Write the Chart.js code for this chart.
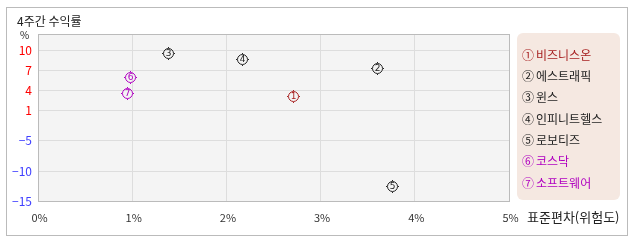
<!DOCTYPE html>
<html lang="ko">
<head>
  <meta charset="UTF-8">
  <title>4주간 수익률</title>
  <script src="https://cdn.jsdelivr.net/npm/chart.js"></script>
  <style>
    body { margin: 0; background: #fff; }
    #wrap { width: 638px; height: 242px; }
  </style>
</head>
<body>
  <div id="wrap"><canvas id="riskChart" width="638" height="242"></canvas></div>
  <script>
    // 종목/지수별 위험도(표준편차)와 4주간 수익률
    const names = ['비즈니스온', '에스트래픽', '윈스', '인피니트헬스', '로보티즈', '코스닥', '소프트웨어'];
    const marks = ['①', '②', '③', '④', '⑤', '⑥', '⑦'];
    const risk = [2.71, 3.60, 1.38, 2.17, 3.76, 0.98, 0.94];
    const returns = [3.1, 7.35, 9.5, 8.7, -12.5, 5.95, 3.5];
    const yTicks = [10, 7, 4, 1, -5, -10, -15];
    const xTicks = [0, 1, 2, 3, 4, 5];

    const colors = ['#a82222', '#222222', '#222222', '#222222', '#222222', '#b000c0', '#b000c0'];
    const FONT = "'Noto Sans CJK KR', 'Noto Sans', sans-serif";

    // y축 눈금 간격이 구간마다 달라서 구간별 선형 스케일을 씀
    class BandScale extends Chart.LinearScale {
      frac(v) {
        const k = this.options.knots;
        let i = 0;
        while (i < k.length - 2 && v > k[i + 1][0]) i++;
        const [v0, p0] = k[i], [v1, p1] = k[i + 1];
        const top = k[k.length - 1][1];
        return (p0 + (v - v0) / (v1 - v0) * (p1 - p0)) / top;
      }
      getPixelForValue(v) {
        if (v === null || v === undefined) return NaN;
        return this.getPixelForDecimal(this.frac(v));
      }
      getValueForPixel(px) {
        const k = this.options.knots;
        const p = this.getDecimalForPixel(px) * k[k.length - 1][1];
        let i = 0;
        while (i < k.length - 2 && p > k[i + 1][1]) i++;
        const [v0, p0] = k[i], [v1, p1] = k[i + 1];
        return v0 + (p - p0) / (p1 - p0) * (v1 - v0);
      }
    }
    BandScale.id = 'band';
    BandScale.defaults = Chart.LinearScale.defaults;
    Chart.register(BandScale);

    function makeMarker(num, color) {
      const c = document.createElement('canvas');
      c.width = 13; c.height = 13;
      const g = c.getContext('2d');
      g.strokeStyle = color; g.fillStyle = color; g.lineWidth = 1;
      g.beginPath(); g.arc(6.5, 6.5, 5, 0, Math.PI * 2); g.stroke();
      g.fillRect(6, 0, 1, 1); g.fillRect(6, 12, 1, 1);
      g.fillRect(0, 6, 1, 1); g.fillRect(12, 6, 1, 1);
      g.font = "9px 'DejaVu Sans'";
      g.textAlign = 'center'; g.textBaseline = 'middle';
      g.fillText(num, 6.5, 7);
      return c;
    }
    const markerImgs = colors.map((c, i) => makeMarker(String(i + 1), c));

    const datasets = names.map((n, i) => ({
      label: n,
      data: [{ x: risk[i], y: returns[i] }],
      pointRadius: 0,
      backgroundColor: colors[i],
      borderColor: colors[i]
    }));

    const decor = {
      id: 'decor',
      beforeDraw(chart) {
        const ctx = chart.ctx, a = chart.chartArea;
        ctx.save();
        ctx.fillStyle = '#fff';
        ctx.fillRect(0, 0, chart.width, chart.height);
        ctx.strokeStyle = '#bbbbbb'; ctx.lineWidth = 1;
        ctx.strokeRect(6.5, 7.5, 621, 228);
        ctx.fillStyle = '#f4f4f4';
        ctx.fillRect(a.left, a.top, a.right - a.left, a.bottom - a.top);

        ctx.fillStyle = '#222';
        ctx.font = '12px ' + FONT;
        ctx.textBaseline = 'middle';
        ctx.textAlign = 'left';
        ctx.fillText('4주간 수익률', 17, 21);
        ctx.font = '10px ' + FONT;
        ctx.textAlign = 'center';
        ctx.fillText('%', 24.5, 35);

        ctx.textAlign = 'left';
        ctx.font = '13px ' + FONT;
        ctx.fillText('표준편차(위험도)', 527, 217);

        // 범례
        ctx.fillStyle = '#f5e8e1';
        ctx.beginPath();
        ctx.roundRect(517, 33, 103, 167, 6);
        ctx.fill();
        ctx.font = '12px ' + FONT;
        names.forEach((n, i) => {
          const y = 55 + i * 21.33;
          ctx.fillStyle = colors[i];
          ctx.fillText(marks[i], 522, y);
          ctx.fillText(n, 536, y);
        });
        ctx.restore();
      },
      afterDatasetsDraw(chart) {
        const ctx = chart.ctx;
        chart.data.datasets.forEach((ds, i) => {
          chart.getDatasetMeta(i).data.forEach(pt => {
            ctx.drawImage(markerImgs[i], Math.round(pt.x) - 6, Math.round(pt.y) - 6);
          });
        });
      },
      afterDraw(chart) {
        const ctx = chart.ctx;
        ctx.save();
        ctx.strokeStyle = '#bbbbbb'; ctx.lineWidth = 1;
        ctx.strokeRect(38.5, 34.5, 471, 167);
        ctx.restore();
      }
    };

    new Chart(document.getElementById('riskChart'), {
      type: 'scatter',
      data: { datasets },
      options: {
        responsive: false,
        animation: false,
        events: [],
        layout: { padding: { left: 0, top: 34, right: 129, bottom: 0 } },
        plugins: { legend: { display: false }, tooltip: { enabled: false } },
        scales: {
          x: {
            type: 'linear',
            min: 0, max: 5,
            afterFit: s => { s.height = 41; },
            afterBuildTicks: s => { s.ticks = xTicks.map(v => ({ value: v })); },
            grid: { color: '#dddddd', drawTicks: false },
            border: { display: false },
            ticks: {
              padding: 10,
              labelOffset: 1.5,
              color: '#333',
              font: { size: 11, family: FONT },
              callback: v => v + '%'
            }
          },
          y: {
            type: 'band',
            min: -15, max: 12.4,
            bounds: 'data',
            knots: [[-15, 0], [-10, 30], [-5, 61], [1, 91], [4, 111], [7, 131], [10, 151], [12.4, 167]],
            afterFit: s => { s.width = 38; },
            afterBuildTicks: s => { s.ticks = yTicks.map(v => ({ value: v })); },
            grid: { color: '#dddddd', drawTicks: false },
            border: { display: false },
            ticks: {
              padding: 6,
              font: { size: 12, family: FONT },
              color: c => (c.tick && c.tick.value < 0) ? '#4040ff' : '#ff0000',
              callback: v => (v < 0 ? '\u2212' + Math.abs(v) : String(v))
            }
          }
        }
      },
      plugins: [decor]
    });
  </script>
</body>
</html>
